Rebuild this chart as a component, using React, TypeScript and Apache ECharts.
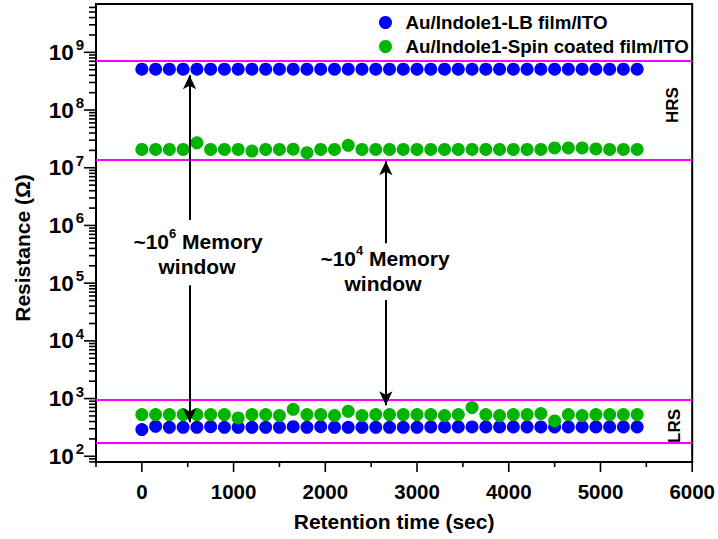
import React, { useEffect, useRef } from "react";
import * as echarts from "echarts";

const FONT = "'Liberation Sans', Arial, sans-serif";

// Retention time (s)
const times = [
  0, 150, 300, 450, 600, 750, 900, 1050, 1200, 1350, 1500, 1650, 1800, 1950, 2100, 2250, 2400, 2550, 2700,
  2850, 3000, 3150, 3300, 3450, 3600, 3750, 3900, 4050, 4200, 4350, 4500, 4650, 4800, 4950, 5100, 5250, 5400,
];

// Au/Indole1-LB film/ITO
const lbHRS = [
  5.1e8, 5.1e8, 5.1e8, 5.1e8, 5.1e8, 5.1e8, 5.1e8, 5.1e8, 5.1e8, 5.1e8, 5.1e8, 5.1e8, 5.1e8, 5.1e8, 5.1e8, 5.1e8, 5.1e8, 5.1e8, 5.1e8,
  5.1e8, 5.1e8, 5.1e8, 5.1e8, 5.1e8, 5.1e8, 5.1e8, 5.1e8, 5.1e8, 5.1e8, 5.1e8, 5.1e8, 5.1e8, 5.1e8, 5.1e8, 5.1e8, 5.1e8, 5.1e8,
];
const lbLRS = [
  290, 330, 318, 318, 318, 325, 318, 318, 318, 318, 318, 325, 318, 325, 318, 318, 318, 318, 318,
  318, 318, 322, 322, 322, 322, 322, 322, 322, 322, 322, 322, 322, 322, 322, 322, 322, 322,
];

// Au/Indole1-Spin coated film/ITO
const spinHRS = [
  2.08e7, 2.08e7, 2.08e7, 2.08e7, 2.7e7, 2.08e7, 2.08e7, 2.08e7, 1.95e7, 2.08e7, 2.08e7, 2.1e7, 1.82e7, 2.08e7, 2.08e7, 2.45e7, 2.08e7, 2.08e7, 2.08e7,
  2.08e7, 2.08e7, 2.08e7, 2.08e7, 2.08e7, 2.08e7, 2.08e7, 2.08e7, 2.08e7, 2.08e7, 2.08e7, 2.2e7, 2.2e7, 2.2e7, 2.12e7, 2.08e7, 2.08e7, 2.08e7,
];
const spinLRS = [
  528, 528, 528, 528, 528, 528, 528, 461, 528, 528, 508, 653, 528, 528, 508, 602, 508, 528, 528,
  528, 528, 528, 508, 528, 699, 528, 508, 528, 528, 550, 410, 528, 508, 528, 528, 528, 528,
];

// window boundary lines (Ω)
const boundaryLines = [7.1e8, 1.36e7, 940, 172];

// memory window arrows: [time, from, to]
const arrows = [
  [520, 1.24e6, 4.0e8],
  [520, 9.2e4, 390],
  [2660, 4.9e5, 1.3e7],
  [2660, 5.1e4, 766],
];

// axes
const X_MIN = -500;
const X_MAX = 6000;
const Y_MIN = 79.6;
const Y_MAX = 6.88e9;
const xMajorTicks = [0, 1000, 2000, 3000, 4000, 5000, 6000];
const xMinorTicks = [-500, 500, 1500, 2500, 3500, 4500, 5500];
const yDecades = [100, 1e3, 1e4, 1e5, 1e6, 1e7, 1e8, 1e9];
const yMinorMultipliers = [2, 3, 4, 5, 6, 7, 8, 9];

const LB_COLOR = "#0000ff";
const SPIN_COLOR = "#00b400";
const LINE_COLOR = "#ff00ff";

export default function App() {
  const ref = useRef<HTMLDivElement>(null);

  useEffect(() => {
    if (!ref.current) return;
    const chart = echarts.init(ref.current, undefined, { renderer: "svg" });

    const lbData = [
      ...times.map((t, i) => [t, lbHRS[i]]),
      ...times.map((t, i) => [t, lbLRS[i]]),
    ];
    const spinData = [
      ...times.map((t, i) => [t, spinHRS[i]]),
      ...times.map((t, i) => [t, spinLRS[i]]),
    ];

    // tick marks: [x, y, direction(0=y-axis,1=x-axis), length]
    const tickData: number[][] = [];
    xMajorTicks.forEach((v) => tickData.push([v, Y_MIN, 1, 10]));
    xMinorTicks.forEach((v) => tickData.push([v, Y_MIN, 1, 5]));
    yDecades.forEach((v) => tickData.push([X_MIN, v, 0, 12]));
    [10, ...yDecades].forEach((d) =>
      yMinorMultipliers.forEach((m) => {
        const v = d * m;
        if (v > Y_MIN && v < Y_MAX) tickData.push([X_MIN, v, 0, 7]);
      })
    );

    const supRich = {
      s: { fontFamily: FONT, fontWeight: "bold", fontSize: 13, lineHeight: 13, verticalAlign: "top", fill: "#000" },
    };

    const option: any = {
      animation: false,
      backgroundColor: "#ffffff",
      textStyle: { fontFamily: FONT },
      grid: {
        left: 96,
        right: 22,
        top: 4,
        bottom: 77,
        show: true,
        borderColor: "#000",
        borderWidth: 2,
        containLabel: false,
      },
      legend: {
        orient: "vertical",
        left: 374,
        top: 7,
        itemWidth: 30,
        itemHeight: 13,
        itemGap: 3,
        icon: "circle",
        data: ["Au/Indole1-LB film/ITO", "Au/Indole1-Spin coated film/ITO"],
        textStyle: { fontFamily: FONT, fontWeight: "bold", fontSize: 18.8, color: "#000", lineHeight: 21 },
      },
      xAxis: {
        type: "value",
        min: X_MIN,
        max: X_MAX,
        interval: 500,
        name: "Retention time (sec)",
        nameLocation: "middle",
        nameGap: 49,
        nameTextStyle: { fontFamily: FONT, fontWeight: "bold", fontSize: 21, color: "#000" },
        axisLine: { show: true, onZero: false, lineStyle: { color: "#000", width: 2 } },
        axisTick: { show: false },
        splitLine: { show: false },
        axisLabel: {
          margin: 19,
          color: "#000",
          fontFamily: FONT,
          fontWeight: "bold",
          fontSize: 20.5,
          formatter: (v: number) => (v % 1000 === 0 ? String(v) : ""),
        },
      },
      yAxis: {
        type: "log",
        logBase: 10,
        min: Y_MIN,
        max: Y_MAX,
        axisLine: { show: true, onZero: false, lineStyle: { color: "#000", width: 2 } },
        axisTick: { show: false },
        minorTick: { show: false },
        splitLine: { show: false },
        axisLabel: {
          margin: 12,
          color: "#000",
          formatter: (v: number) => {
            const l = Math.log10(v);
            const e = Math.round(l);
            if (Math.abs(l - e) > 0.01) return "";
            return `{b|10}{s|${e}}`;
          },
          rich: {
            b: { fontFamily: FONT, fontWeight: "bold", fontSize: 22.5, lineHeight: 30, color: "#000" },
            s: {
              fontFamily: FONT,
              fontWeight: "bold",
              fontSize: 15,
              lineHeight: 14,
              verticalAlign: "top",
              padding: [0, 0, 0, 2],
              color: "#000",
            },
          },
        },
      },
      series: [
        {
          name: "Au/Indole1-LB film/ITO",
          type: "scatter",
          symbol: "circle",
          symbolSize: 13,
          itemStyle: { color: LB_COLOR, opacity: 1 },
          data: lbData,
          z: 3,
          markLine: {
            silent: true,
            symbol: "none",
            label: { show: false },
            lineStyle: { color: LINE_COLOR, width: 2, type: "solid" },
            data: boundaryLines.map((v) => ({ yAxis: v })),
            z: 2,
          },
        },
        {
          name: "Au/Indole1-Spin coated film/ITO",
          type: "scatter",
          symbol: "circle",
          symbolSize: 13,
          itemStyle: { color: SPIN_COLOR, opacity: 1 },
          data: spinData,
          z: 4,
          markLine: {
            silent: true,
            symbol: ["none", "arrow"],
            symbolSize: [10, 14],
            label: { show: false },
            lineStyle: { color: "#000", width: 2, type: "solid" },
            data: arrows.map((a) => [{ coord: [a[0], a[1]] }, { coord: [a[0], a[2]] }]),
            z: 5,
          },
        },
        {
          name: "ticks",
          type: "custom",
          silent: true,
          clip: false,
          z: 10,
          data: tickData,
          renderItem: (_params: any, api: any) => {
            const p = api.coord([api.value(0), api.value(1)]);
            const dir = api.value(2);
            const len = api.value(3);
            const shape =
              dir === 0
                ? { x1: p[0] - len, y1: p[1], x2: p[0], y2: p[1] }
                : { x1: p[0], y1: p[1], x2: p[0], y2: p[1] + len };
            return { type: "line", shape, style: { stroke: "#000", lineWidth: 1.6 } };
          },
        },
      ],
      graphic: [
        {
          type: "text",
          x: 22,
          y: 248,
          rotation: Math.PI / 2,
          style: {
            text: "Resistance (Ω)",
            align: "center",
            verticalAlign: "middle",
            font: `bold 21px ${FONT}`,
            fill: "#000",
          },
        },
        {
          type: "text",
          x: 198,
          y: 241,
          style: {
            text: "~10{s|6} Memory",
            align: "center",
            verticalAlign: "middle",
            font: `bold 21px ${FONT}`,
            lineHeight: 28,
            fill: "#000",
            rich: supRich,
          },
        },
        {
          type: "text",
          x: 197,
          y: 266,
          style: { text: "window", align: "center", verticalAlign: "middle", font: `bold 21px ${FONT}`, fill: "#000" },
        },
        {
          type: "text",
          x: 385,
          y: 258,
          style: {
            text: "~10{s|4} Memory",
            align: "center",
            verticalAlign: "middle",
            font: `bold 21px ${FONT}`,
            lineHeight: 28,
            fill: "#000",
            rich: supRich,
          },
        },
        {
          type: "text",
          x: 383,
          y: 283,
          style: { text: "window", align: "center", verticalAlign: "middle", font: `bold 21px ${FONT}`, fill: "#000" },
        },
        {
          type: "text",
          x: 672,
          y: 105,
          rotation: Math.PI / 2,
          style: { text: "HRS", align: "center", verticalAlign: "middle", font: `bold 17px ${FONT}`, fill: "#000" },
        },
        {
          type: "text",
          x: 674,
          y: 426,
          rotation: Math.PI / 2,
          style: { text: "LRS", align: "center", verticalAlign: "middle", font: `bold 17px ${FONT}`, fill: "#000" },
        },
      ],
    };

    chart.setOption(option);
    return () => chart.dispose();
  }, []);

  return <div ref={ref} style={{ width: 718, height: 539, position: "absolute", left: 0, top: 0 }} />;
}
